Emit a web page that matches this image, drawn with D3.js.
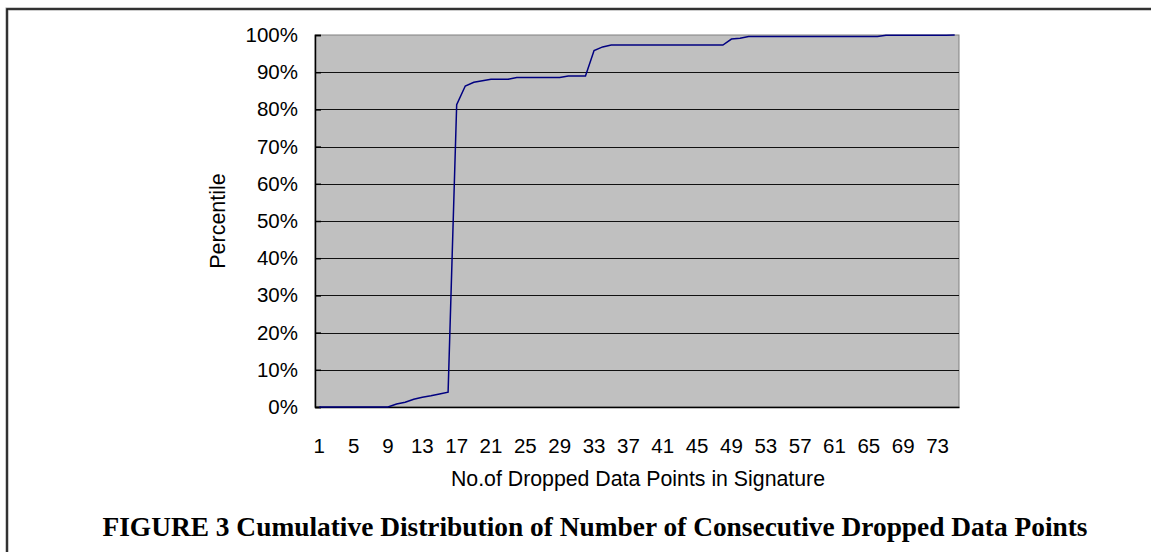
<!DOCTYPE html>
<html>
<head>
<meta charset="utf-8">
<script src="https://cdn.jsdelivr.net/npm/d3@7"></script>
<style>
  html, body { margin: 0; padding: 0; background: #fff; }
  svg { display: block; }
</style>
</head>
<body>
<svg id="chart" width="1151" height="552"></svg>
<script>
// Categories: number of consecutive dropped data points (1..75)
const categories = d3.range(1, 76);
// Cumulative percentile (%) for each category
const percentile = [
  0, 0, 0, 0, 0, 0, 0, 0, 0, 0.8,
  1.3, 2.1, 2.6, 3.0, 3.5, 4.0, 81.3, 86.3, 87.3, 87.7,
  88.1, 88.1, 88.1, 88.6, 88.6, 88.6, 88.6, 88.6, 88.6, 89.0,
  89.0, 89.0, 95.8, 96.8, 97.3, 97.3, 97.3, 97.3, 97.3, 97.3,
  97.3, 97.3, 97.3, 97.3, 97.3, 97.3, 97.3, 97.3, 98.9, 99.1,
  99.6, 99.6, 99.6, 99.6, 99.6, 99.6, 99.6, 99.6, 99.6, 99.6,
  99.6, 99.6, 99.6, 99.6, 99.6, 99.6, 99.9, 99.9, 99.9, 99.9,
  99.9, 99.9, 99.9, 99.9, 100
];
const yTicks = [0, 10, 20, 30, 40, 50, 60, 70, 80, 90, 100];
const xTickLabels = d3.range(1, 76, 4);
const xTitle = "No.of Dropped Data Points in Signature";
const yTitle = "Percentile";
const caption = "FIGURE 3 Cumulative Distribution of Number of Consecutive Dropped Data Points";

const svg = d3.select("#chart");
const plot = { left: 315, right: 959, top: 35, bottom: 407 };

// outer frame
svg.append("rect").attr("x", 7).attr("y", 9).attr("width", 1200).attr("height", 600)
  .attr("fill", "none").attr("stroke", "#999").attr("stroke-width", 3);
svg.append("rect").attr("x", 7).attr("y", 9).attr("width", 1200).attr("height", 600)
  .attr("fill", "none").attr("stroke", "#111").attr("stroke-width", 1.5);

const x = d3.scaleBand().domain(categories).range([plot.left, plot.right]).padding(0);
const y = d3.scaleLinear().domain([0, 100]).range([plot.bottom, plot.top]);

// plot area
svg.append("rect").attr("x", plot.left).attr("y", plot.top)
  .attr("width", plot.right - plot.left).attr("height", plot.bottom - plot.top)
  .attr("fill", "#C0C0C0").attr("stroke", "#808080").attr("stroke-width", 1);

// gridlines
svg.append("g").selectAll("line").data(yTicks.filter(d => d > 0 && d < 100)).join("line")
  .attr("x1", plot.left).attr("x2", plot.right)
  .attr("y1", d => Math.round(y(d)) + 0.5).attr("y2", d => Math.round(y(d)) + 0.5)
  .attr("stroke", "#111").attr("stroke-width", 1);

// y axis
const yAxis = d3.axisLeft(y).tickValues(yTicks).tickFormat(d => d + "%").tickSize(-6).tickPadding(17);
const gy = svg.append("g").attr("transform", `translate(${plot.left},0)`).call(yAxis);
gy.select(".domain").attr("stroke", "#000").attr("stroke-width", 1.5);
gy.selectAll(".tick line").attr("stroke", "#000").attr("stroke-width", 1.5);
gy.selectAll("text").attr("font-family", "Arial, 'Liberation Sans', sans-serif")
  .attr("font-size", 20.5).attr("fill", "#000");

// x axis
const xAxis = d3.axisBottom(x).tickValues(xTickLabels).tickSize(0).tickPadding(31);
const gx = svg.append("g").attr("transform", `translate(0,${plot.bottom})`).call(xAxis);
gx.select(".domain").attr("stroke", "#000").attr("stroke-width", 1.5);
gx.selectAll("text").attr("font-family", "Arial, 'Liberation Sans', sans-serif")
  .attr("font-size", 20.5).attr("fill", "#000");

// line
const line = d3.line()
  .x((d, i) => x(categories[i]) + x.bandwidth() / 2)
  .y(d => y(d));
svg.append("path").datum(percentile).attr("d", line)
  .attr("fill", "none").attr("stroke", "#000080").attr("stroke-width", 1.5);

// titles
svg.append("text").attr("x", 638).attr("y", 486).attr("text-anchor", "middle")
  .attr("font-family", "Arial, 'Liberation Sans', sans-serif").attr("font-size", 21.3)
  .text(xTitle);
svg.append("text").attr("transform", `translate(225,${(plot.top + plot.bottom) / 2}) rotate(-90)`)
  .attr("text-anchor", "middle")
  .attr("font-family", "Arial, 'Liberation Sans', sans-serif").attr("font-size", 21.5)
  .text(yTitle);
svg.append("text").attr("x", 595).attr("y", 536).attr("text-anchor", "middle")
  .attr("font-family", "'Times New Roman', 'Liberation Serif', serif").attr("font-size", 27.4)
  .attr("font-weight", "bold")
  .text(caption);
</script>
</body>
</html>
